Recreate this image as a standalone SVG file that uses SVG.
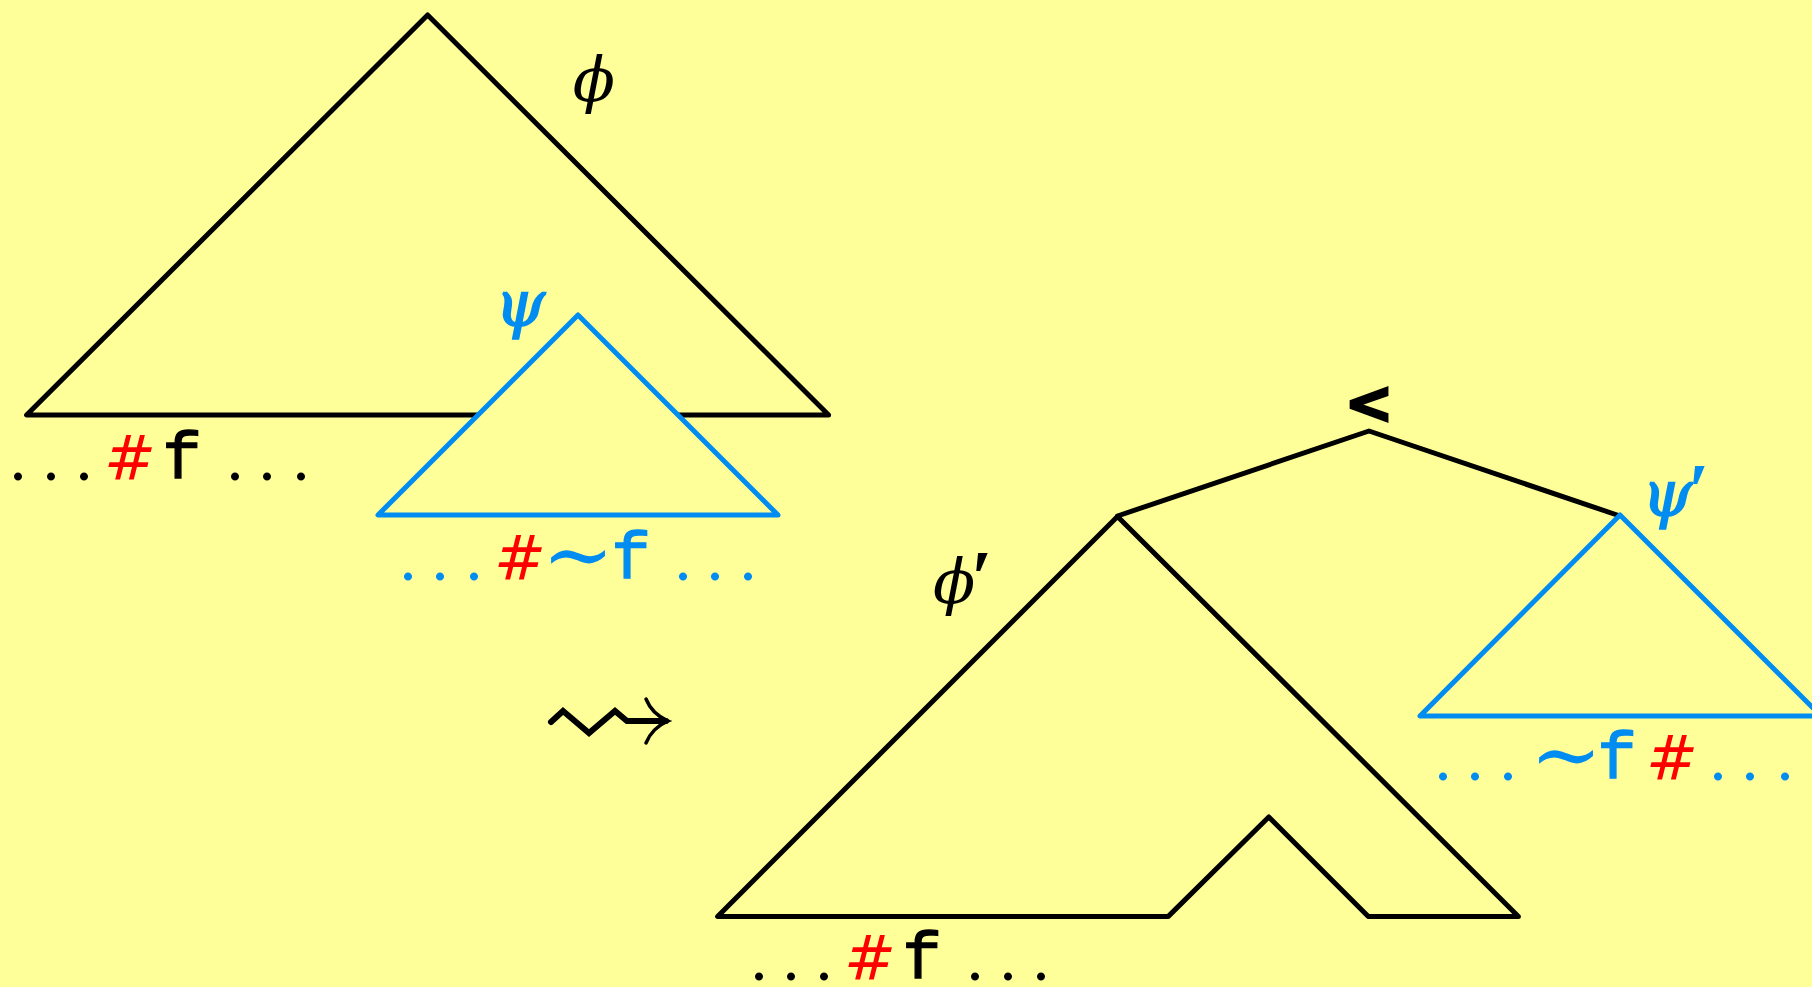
<svg xmlns="http://www.w3.org/2000/svg" width="1812" height="987" viewBox="0 0 1812 987">
<style>
.blk{fill:none;stroke:#000;stroke-width:5;stroke-linejoin:round;stroke-linecap:round}
.blu{fill:#FFFF99;stroke:#008CF0;stroke-width:5;stroke-linejoin:round;stroke-linecap:round}
.tt{font-family:"Liberation Mono","DejaVu Sans Mono",monospace;font-size:66px;text-anchor:middle;stroke-width:1.3}
.hash{font-family:"DejaVu Sans","Liberation Sans",sans-serif;font-size:62px;text-anchor:middle;font-style:italic}
.dots{font-family:"Liberation Serif",serif;font-size:68px;text-anchor:middle}
.sim{font-family:"DejaVu Serif",serif;font-size:86px;text-anchor:middle}
.gr{font-family:"DejaVu Serif",serif;font-size:62px;font-style:italic}
.grb{font-family:"DejaVu Serif",serif;font-size:64px;font-style:italic;stroke:#008CF0;stroke-width:1.6}
.pr{font-family:"Liberation Serif",serif;font-style:normal;font-weight:bold;font-size:76px}
.red{fill:#FF0000}
.bk{fill:#000}
.bl{fill:#008CF0}
</style>
<rect width="1812" height="987" fill="#FFFF99"/>
<g id="phi">
<polygon class="blk" points="427.6,15 26.6,415 828.6,415"/>
<text class="gr bk" x="594" y="101" text-anchor="middle">ϕ</text>
</g>
<g id="psi">
<polygon class="blu" points="578,315 378,515 778,515"/>
<text class="grb bl" x="520" y="326" text-anchor="middle">ψ</text>
</g>
<g id="text1">
<text class="dots bk" x="18 51 84" y="480">...</text>
<text class="hash red" x="130" y="480">#</text>
<text class="tt bk" stroke="#000" x="182" y="478">f</text>
<text class="dots bk" x="235 267 301" y="480">...</text>
</g>
<g id="text2">
<text class="dots bl" x="408 440 474" y="580">...</text>
<text class="hash red" x="520" y="580">#</text>
<text class="sim bl" x="578" y="584">∼</text>
<text class="tt bl" stroke="#008CF0" x="631" y="578">f</text>
<text class="dots bl" x="683 715 748" y="580">...</text>
</g>
<g id="arrow">
<path d="M551,722 L563,711 L589,733 L615,711 L627,721 L666,721" fill="none" stroke="#000" stroke-width="6" stroke-linejoin="miter" stroke-linecap="round"/>
<path d="M646,699 Q652,714 668,721 Q652,728 646,743" fill="none" stroke="#000" stroke-width="3.5" stroke-linecap="round"/>
</g>
<g id="lt">
<text x="1369" y="423" font-family="DejaVu Sans,sans-serif" font-weight="bold" font-size="58" text-anchor="middle" fill="#000" stroke="#000" stroke-width="2.5">&lt;</text>
</g>
<g id="connectors">
<polyline class="blk" points="1117.5,516 1369,431 1620,516"/>
</g>
<g id="phiprime">
<polygon class="blk" points="1117.5,516.5 717.6,916.4 1168.3,916.4 1268.8,817 1368.3,916.4 1518.4,916.4"/>
<text class="gr bk" x="933" y="603">ϕ<tspan class="pr" dx="-4">′</tspan></text>
</g>
<g id="psiprime">
<polygon class="blu" points="1620,515 1420,716 1821,716"/>
<text class="grb bl" x="1642" y="516">ψ<tspan class="pr" dx="-4" stroke="none">′</tspan></text>
</g>
<g id="text3">
<text class="dots bk" x="759 791 824" y="980">...</text>
<text class="hash red" x="870" y="980">#</text>
<text class="tt bk" stroke="#000" x="922" y="978">f</text>
<text class="dots bk" x="975 1008 1041" y="980">...</text>
</g>
<g id="text4">
<text class="dots bl" x="1443 1475 1508" y="780">...</text>
<text class="sim bl" x="1566" y="784">∼</text>
<text class="tt bl" stroke="#008CF0" x="1617" y="778">f</text>
<text class="hash red" x="1672" y="780">#</text>
<text class="dots bl" x="1718 1750 1785" y="780">...</text>
</g>
</svg>
